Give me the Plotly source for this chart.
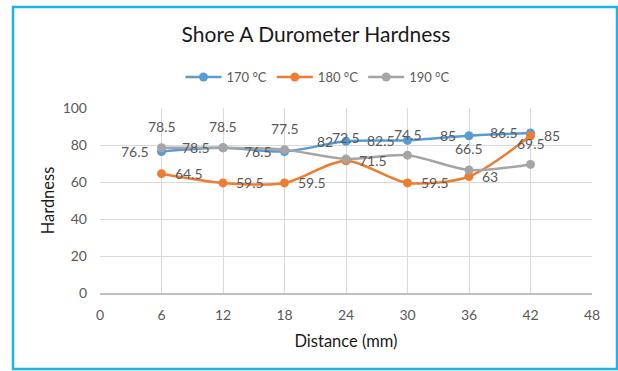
import plotly.graph_objects as go

# Shore A hardness measured along the sample at three processing temperatures
distance_mm = [6, 12, 18, 24, 30, 36, 42]
hardness_170 = [76.5, 78.5, 76.5, 82, 82.5, 85, 86.5]
hardness_180 = [64.5, 59.5, 59.5, 71.5, 59.5, 63, 85]
hardness_190 = [78.5, 78.5, 77.5, 72.5, 74.5, 66.5, 69.5]

series_names = ["170 °C", "180 °C", "190 °C"]
x_ticks = [0, 6, 12, 18, 24, 30, 36, 42, 48]
y_ticks = [0, 20, 40, 60, 80, 100]

FONT = "Lato, 'Open Sans', sans-serif"
LABEL_GREY = "#595959"
TITLE_COLOR = "#1a1a1a"

# (name, values, colour, label anchor, label shift x, label shift y)
series = [
    (series_names[0], hardness_170, "#5B9BD5", ("right", "middle"), -11, 0),
    (series_names[1], hardness_180, "#ED7D31", ("left", "middle"), 11, 0),
    (series_names[2], hardness_190, "#A5A5A5", ("center", "middle"), 0, 21),
]

fig = go.Figure()
annotations = []
for name, values, color, (xa, ya), dx, dy in series:
    fig.add_trace(go.Scatter(
        x=distance_mm,
        y=values,
        name=name,
        mode="lines+markers",
        line=dict(color=color, width=2.5, shape="spline", smoothing=0.8),
        marker=dict(color=color, size=9),
        cliponaxis=False,
    ))
    # value labels next to each point
    for xv, yv in zip(distance_mm, values):
        annotations.append(dict(
            x=xv, y=yv, xref="x", yref="y",
            text=f"{yv:g}", showarrow=False,
            xanchor=xa, yanchor=ya, xshift=dx, yshift=dy,
            font=dict(family=FONT, size=14, color=LABEL_GREY),
        ))

fig.update_layout(
    width=618,
    height=371,
    margin=dict(l=100, r=26, t=108, b=78),
    paper_bgcolor="white",
    plot_bgcolor="white",
    font=dict(family=FONT, color=LABEL_GREY),
    title=dict(
        text="Shore A Durometer Hardness",
        x=316 / 618, xref="container", xanchor="center",
        y=1 - 35 / 371, yref="container", yanchor="middle",
        font=dict(family=FONT, size=21, color=TITLE_COLOR),
    ),
    legend=dict(
        orientation="h",
        x=(318 - 100) / 492, xanchor="center",
        y=(293 - 77) / 185, yanchor="middle",
        font=dict(family=FONT, size=13, color=LABEL_GREY),
        itemwidth=36,
        tracegroupgap=0,
    ),
    showlegend=True,
    annotations=annotations,
)

fig.update_xaxes(
    range=[0, 48],
    tickvals=x_ticks,
    showgrid=True, gridcolor="#d9d9d9", gridwidth=1,
    zeroline=False,
    showline=True, linecolor="#bfbfbf", linewidth=1.5,
    ticks="",
    ticklabelstandoff=8,
    tickfont=dict(family=FONT, size=14, color=LABEL_GREY),
    title=dict(text="Distance (mm)", font=dict(family=FONT, size=16.5, color=TITLE_COLOR), standoff=14),
)
fig.update_yaxes(
    range=[0, 100],
    tickvals=y_ticks,
    showgrid=True, gridcolor="#d9d9d9", gridwidth=1,
    zeroline=False,
    showline=False,
    ticks="",
    ticklabelstandoff=12,
    tickfont=dict(family=FONT, size=14, color=LABEL_GREY),
    title=dict(text="Hardness", font=dict(family=FONT, size=16.5, color=TITLE_COLOR), standoff=3),
)

# Light blue frame around the whole chart area
fig.add_shape(
    type="rect", xref="paper", yref="paper",
    x0=(13 - 100) / 492, x1=(617 - 100) / 492,
    y0=(293 - 369) / 185, y1=(293 - 7) / 185,
    line=dict(color="#1DB3EA", width=2.5),
    fillcolor="rgba(0,0,0,0)",
    layer="below",
)

fig.write_html("out.html")
